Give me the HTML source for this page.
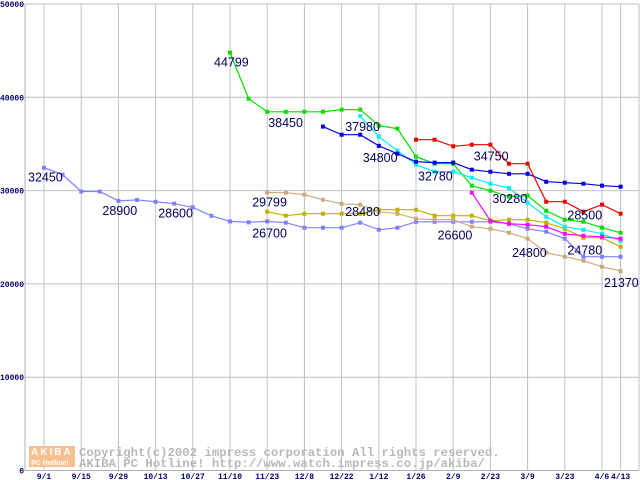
<!DOCTYPE html>
<html><head><meta charset="utf-8"><style>
html,body{margin:0;padding:0;background:#fff;}
svg{display:block;}
.tk{font-family:"Liberation Mono",monospace;font-size:8px;font-weight:bold;fill:#000070;}
.lb{font-family:"Liberation Sans",sans-serif;font-size:12.5px;fill:#000060;}
.wm{font-family:"Liberation Mono",monospace;font-size:12.3px;font-weight:bold;fill:#b8b8b8;}
</style></head><body>
<svg id="chart" width="640" height="480">
<g id="grid"></g>
<g>
<rect x="29" y="446" width="46" height="11" fill="#f8c090"/>
<rect x="29" y="457" width="46" height="10" fill="#f8c090"/>
<text x="31" y="455" font-family="Liberation Sans,sans-serif" font-size="10" font-weight="bold" fill="#fff" letter-spacing="2">AKIBA</text>
<text x="31" y="465" font-family="Liberation Sans,sans-serif" font-size="7" font-weight="bold" fill="#fff">PC Hotline!</text>
<text class="wm" x="79" y="456">Copyright(c)2002 impress corporation All rights reserved.</text>
<text class="wm" x="79" y="467">AKIBA PC Hotline!  http://www.watch.impress.co.jp/akiba/</text>
</g>
<g id="series"></g>
<g id="labels"></g>
</svg>
<script>
const xTickLabels=["9/1","9/15","9/29","10/13","10/27","11/10","11/23","12/8","12/22","1/12","1/26","2/9","2/23","3/9","3/23","4/6","4/13"];
const xTickWeeks=[0,2,4,6,8,10,12,14,16,18,20,22,24,26,28,30,31];
const yTicks=[0,10000,20000,30000,40000,50000];
const lavenderStart=0;
const lavender=[32450,31700,29900,29900,28900,29000,28800,28600,28200,27300,26700,26600,26700,26560,26020,26020,26020,26560,25800,26020,26660,26660,26660,26660,26660,26450,25910,25590,24840,22910,22910,22910];
const greenStart=10;
const green=[44799,39860,38450,38450,38450,38450,38680,38680,36960,36640,33640,32880,32880,30530,29990,29350,29460,27840,26880,26660,26020,25480];
const blueStart=15;
const blue=[36860,35990,35990,34800,33960,33100,33000,33000,32240,32020,31800,31800,30950,30850,30740,30530,30420];
const cyanStart=17;
const cyan=[37980,35780,34280,32780,32030,32030,31380,30740,30280,28700,27200,26130,25800,25370,24620];
const redStart=20;
const red=[35460,35460,34750,34920,34920,32880,32880,28810,28810,27740,28500,27520];
const magentaStart=23;
const magenta=[29770,26770,26450,26340,26130,25370,25160,25050,24840];
const oliveStart=12;
const olive=[27740,27310,27520,27520,27520,27520,27950,27950,27950,27310,27310,27310,26770,26880,26880,26560,25910,24950,24950,23980];
const tanStart=12;
const tan=[29799,29770,29560,29020,28590,28480,27740,27520,26990,26880,26880,26130,25910,25480,24840,23340,22910,22480,21840,21370];
const labelTexts=["32450","28900","28600","44799","38450","37980","34800","29799","28480","26700","32780","34750","30280","26600","24800","28500","24780","21370"];
const labelAnchors=[[0,32450],[4,28900],[7,28600],[10,44799],[12,38450],[17,37980],[18,34800],[12,29799],[17,28480],[12,26700],[20,32780],[23,34750],[24,30280],[21,26600],[25,24800],[29,28500],[29,24780],[30,21370]];
const labelOffsets=[[-16,14],[-16,14],[-16,14],[-16,14],[1,15],[-15,15],[-16,16],[-15,14],[-15,11],[-15,16],[2,16],[2,14],[2,15],[3,17],[3,18],[-16,15],[-16,15],[2,16]];

const NS="http://www.w3.org/2000/svg";
const X0=44,WK=18.6,L=25,R=639,T=4,B=470.5;
function xs(w){return X0+w*WK;}
function ys(v){return B-(B-T)*v/50000;}
function mk(tag,attrs,parent){const e=document.createElementNS(NS,tag);for(const k in attrs)e.setAttribute(k,attrs[k]);parent.appendChild(e);return e;}
const grid=document.getElementById('grid');
yTicks.forEach((v,i)=>{
 const ln=mk('line',{x1:L,x2:R,y1:ys(v),y2:ys(v),stroke:'#c0c0c0','stroke-width':1},grid);
 
 
 const t=mk('text',{x:24,y:ys(v)+3,'text-anchor':'end','class':'tk'},grid);
 t.textContent=String(v);
 
 
});
xTickWeeks.forEach((w,i)=>{
 const ln=mk('line',{x1:xs(w),x2:xs(w),y1:T,y2:B,stroke:'#c0c0c0','stroke-width':1},grid);
 
 
 const t=mk('text',{x:xs(w),y:479,'text-anchor':'middle','class':'tk'},grid);
 t.textContent=xTickLabels[i];
 
 
});
const ax=mk('line',{x1:R,x2:R,y1:T,y2:B,stroke:'#c0c0c0'},grid);


const ay=mk('line',{x1:L,x2:L,y1:T,y2:B,stroke:'#b0b0b0'},grid);


const axb=mk('line',{x1:L,x2:R,y1:B,y2:B,stroke:'#b0b0b0'},grid);



const series=document.getElementById('series');
function draw(name,start,vals,color){
 const g=mk('g',{},series);
 
 
 const pts=vals.map((v,i)=>xs(start+i).toFixed(1)+','+ys(v).toFixed(1)).join(' ');
 const pl=mk('polyline',{points:pts,fill:'none',stroke:color,'stroke-width':1.2},g);
 
 
 vals.forEach((v,i)=>{
  const r=mk('rect',{x:xs(start+i)-2,y:ys(v)-2,width:4,height:4,fill:color},g);
  
  
 });
}
draw('lavender',lavenderStart,lavender,'#8080ff');
draw('tan',tanStart,tan,'#d0a880');
draw('olive',oliveStart,olive,'#c0b000');
draw('green',greenStart,green,'#00e000');
draw('cyan',cyanStart,cyan,'#00f0f0');
draw('blue',blueStart,blue,'#0000e0');
draw('red',redStart,red,'#f00000');
draw('magenta',magentaStart,magenta,'#ff00ff');

const labels=document.getElementById('labels');
labelTexts.forEach((s,i)=>{
 const a=labelAnchors[i],o=labelOffsets[i];
 const t=mk('text',{x:xs(a[0])+o[0],y:ys(a[1])+o[1],'class':'lb'},labels);
 t.textContent=s;
 
 
});
</script>
</body></html>
